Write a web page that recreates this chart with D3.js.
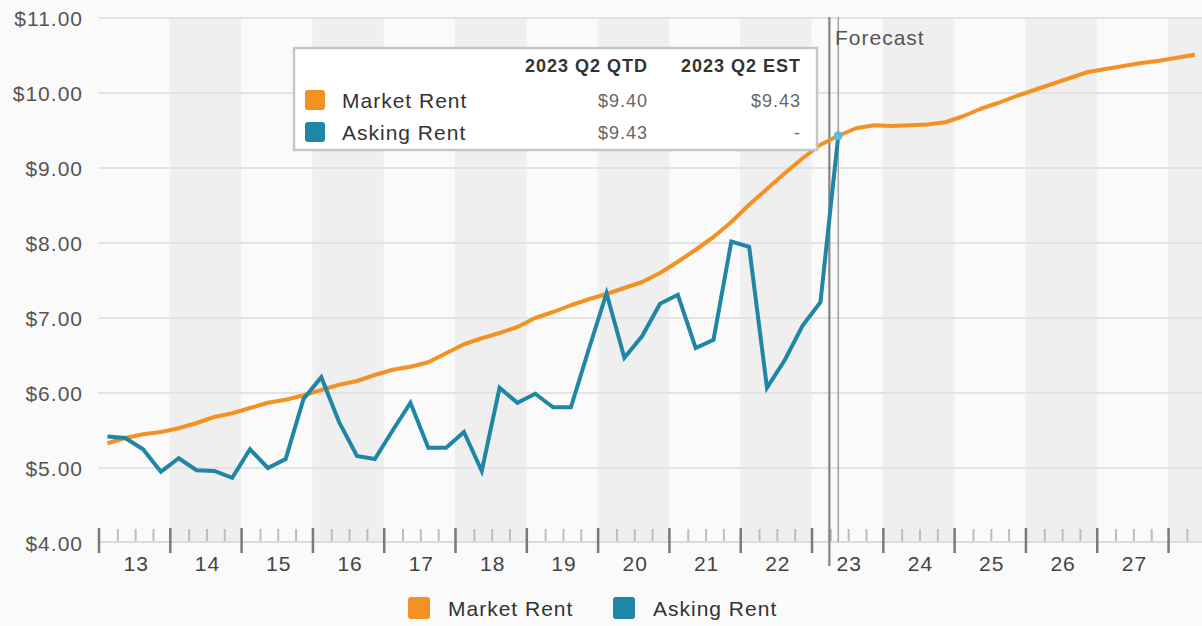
<!DOCTYPE html>
<html><head><meta charset="utf-8">
<script src="https://cdn.jsdelivr.net/npm/d3@7"></script>
<style>
html,body{margin:0;padding:0;background:#fafafa;}
svg{display:block;font-family:"Liberation Sans",Arial,sans-serif;}
</style></head>
<body><svg id="c" width="1202" height="626"></svg>
<script>
// ---- data ----
const yearLabels = ["13","14","15","16","17","18","19","20","21","22","23","24","25","26","27"];
const yTicks = [4,5,6,7,8,9,10,11];
const marketRent = [5.33,5.40,5.45,5.48,5.53,5.60,5.68,5.73,5.80,5.87,5.91,5.97,6.04,6.11,6.16,6.24,6.31,6.35,6.41,6.53,6.65,6.73,6.80,6.88,7.00,7.08,7.17,7.25,7.32,7.40,7.48,7.60,7.75,7.91,8.08,8.28,8.51,8.72,8.93,9.13,9.31,9.43,9.53,9.57,9.56,9.57,9.58,9.61,9.69,9.79,9.87,9.96,10.04,10.12,10.20,10.28,10.32,10.36,10.40,10.43,10.47,10.51];
const askingRent = [5.42,5.40,5.25,4.95,5.13,4.97,4.96,4.87,5.25,5.00,5.12,5.92,6.21,5.61,5.16,5.12,5.50,5.87,5.27,5.27,5.48,4.96,6.07,5.87,5.99,5.81,5.81,6.58,7.33,6.47,6.76,7.19,7.31,6.60,6.71,8.02,7.95,6.07,6.44,6.90,7.21,9.43];
const seriesNames = ["Market Rent","Asking Rent"];
const seriesColors = ["#f39222","#1f86a5"];
const tooltipHeaders = ["2023 Q2 QTD","2023 Q2 EST"];
const tooltipValues = [["$9.40","$9.43"],["$9.43","-"]];
const forecastQuarter = 41; // 2023 Q2 index
const totalQuarters = 62;

// ---- layout ----
const svg = d3.select("#c");
const pLeft = 98.5, pRight = 1203.7, pTop = 18, pBottom = 543;
const x = d3.scaleLinear().domain([0,totalQuarters]).range([pLeft,pRight]);
const y = d3.scaleLinear().domain([4,11]).range([pBottom,pTop]);
const fontStyle = "letter-spacing:1px";

// stripes
svg.append("g").selectAll("rect").data(d3.range(0,16).filter(i=>i%2===1)).join("rect")
  .attr("x", d=>x(d*4)).attr("width", d=>Math.min(x(d*4+4),1202)-x(d*4))
  .attr("y", pTop-1).attr("height", pBottom-pTop)
  .attr("fill","#efefef");

// gridlines
svg.append("g").selectAll("line").data(yTicks.slice(1)).join("line")
  .attr("x1", pLeft).attr("x2", 1202).attr("y1", d=>y(d)).attr("y2", d=>y(d))
  .attr("stroke","#e3e3e3").attr("stroke-width",2);

// y labels
svg.append("g").selectAll("text").data(yTicks).join("text")
  .attr("x", 83).attr("y", d=>y(d)+7.5).attr("text-anchor","end")
  .attr("font-size",21).attr("fill","#555").attr("style",fontStyle)
  .text(d=>"$"+d3.format(".2f")(d));

// axis baseline
svg.append("line").attr("x1",pLeft).attr("x2",1202).attr("y1",542).attr("y2",542)
  .attr("stroke","#dcdcdc").attr("stroke-width",2);
// minor ticks
svg.append("g").selectAll("line").data(d3.range(0,totalQuarters+1).filter(q=>q%4!==0)).join("line")
  .attr("x1", d=>x(d)+1.5).attr("x2", d=>x(d)+1.5).attr("y1",529).attr("y2",541)
  .attr("stroke","#bdbdbd").attr("stroke-width",2);
// major ticks
svg.append("g").selectAll("line").data(d3.range(0,16)).join("line")
  .attr("x1", d=>x(d*4)+0.5).attr("x2", d=>x(d*4)+0.5).attr("y1",528).attr("y2",553)
  .attr("stroke","#7a7a7a").attr("stroke-width",2.5);
// year labels
svg.append("g").selectAll("text").data(yearLabels).join("text")
  .attr("x",(d,i)=>x(i*4+2)+2).attr("y",571).attr("text-anchor","middle")
  .attr("font-size",21).attr("fill","#444").attr("style",fontStyle).text(d=>d);

// forecast lines
svg.append("line").attr("x1",x(forecastQuarter)).attr("x2",x(forecastQuarter))
  .attr("y1",pTop-1).attr("y2",566).attr("stroke","#858585").attr("stroke-width",2.2);
svg.append("line").attr("x1",x(forecastQuarter+0.5)).attr("x2",x(forecastQuarter+0.5))
  .attr("y1",pTop-1).attr("y2",542).attr("stroke","#a5a5a5").attr("stroke-width",1.6);
svg.append("text").attr("x",835).attr("y",45).attr("font-size",21).attr("fill","#555")
  .attr("style",fontStyle).text("Forecast");

// lines
const line = d3.line().x((d,i)=>x(i+0.5)).y(d=>y(d));
svg.append("path").datum(marketRent).attr("d",line).attr("fill","none")
  .attr("stroke",seriesColors[0]).attr("stroke-width",4).attr("stroke-linejoin","round");
svg.append("path").datum(askingRent).attr("d",line).attr("fill","none")
  .attr("stroke",seriesColors[1]).attr("stroke-width",4).attr("stroke-linejoin","miter");
svg.append("circle").attr("cx",x(askingRent.length-0.5)).attr("cy",y(askingRent[askingRent.length-1]))
  .attr("r",4.5).attr("fill","#5cbcdb");

// tooltip box
const tb = svg.append("g");
tb.append("rect").attr("x",294).attr("y",48).attr("width",523).attr("height",102)
  .attr("fill","#ffffff").attr("stroke","#c6c6c6").attr("stroke-width",2.5);
const colX = [648, 801];
tooltipHeaders.forEach((h,i)=>{
  tb.append("text").attr("x",colX[i]).attr("y",72).attr("text-anchor","end")
    .attr("font-size",18).attr("font-weight","bold").attr("fill","#333").attr("style",fontStyle).text(h);
});
seriesNames.forEach((n,r)=>{
  const cy = 100 + r*32;
  tb.append("rect").attr("x",305).attr("y",cy-10).attr("width",20).attr("height",20)
    .attr("rx",3).attr("fill",seriesColors[r]);
  tb.append("text").attr("x",342).attr("y",cy+7.5).attr("font-size",21).attr("fill","#333")
    .attr("style",fontStyle).text(n);
  tooltipValues[r].forEach((v,i)=>{
    tb.append("text").attr("x",colX[i]).attr("y",cy+6.5).attr("text-anchor","end")
      .attr("font-size",18).attr("fill","#666").attr("style",fontStyle).text(v);
  });
});

// bottom legend
const legX = [408, 613];
seriesNames.forEach((n,i)=>{
  svg.append("rect").attr("x",legX[i]).attr("y",597).attr("width",22).attr("height",22)
    .attr("rx",3).attr("fill",seriesColors[i]);
  svg.append("text").attr("x",legX[i]+40).attr("y",616).attr("font-size",21)
    .attr("fill","#333").attr("style",fontStyle).text(n);
});
</script></body></html>
